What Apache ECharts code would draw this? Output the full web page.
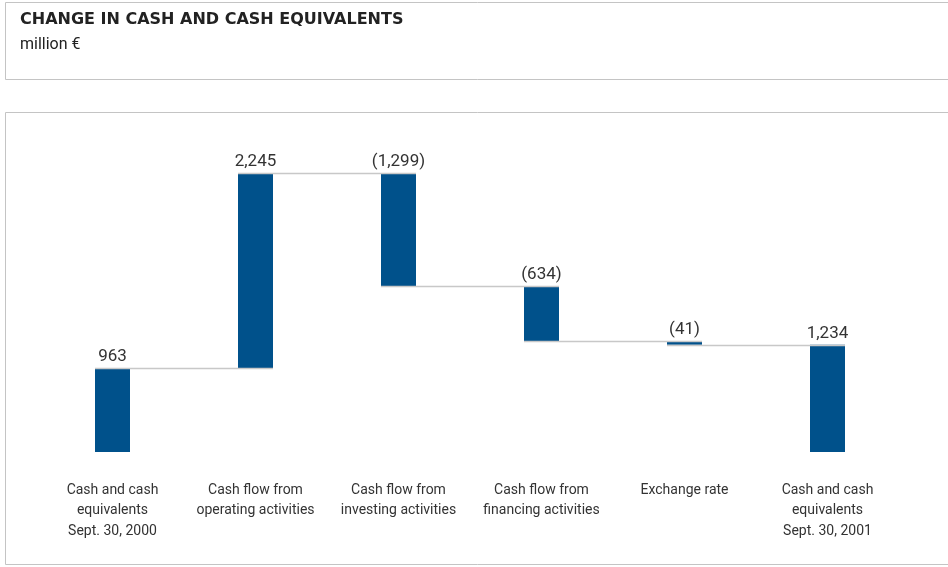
<!DOCTYPE html>
<html>
<head>
<meta charset="utf-8">
<script src="https://cdn.jsdelivr.net/npm/echarts@6/dist/echarts.min.js"></script>
<style>html,body{margin:0;padding:0;background:#fff}#c{width:948px;height:567px}</style>
</head>
<body>
<div id="c"></div>
<script>
var categories = ['Cash and cash\nequivalents\nSept. 30, 2000', 'Cash flow from\noperating activities', 'Cash flow from\ninvesting activities', 'Cash flow from\nfinancing activities', 'Exchange rate', 'Cash and cash\nequivalents\nSept. 30, 2001'];
var changes = [963, 2245, -1299, -634, -41, 1234];
var isTotal = [true, false, false, false, false, true];
var valueLabels = ['963', '2,245', '(1,299)', '(634)', '(41)', '1,234'];

var baseVals = [], barVals = [], levels = [];
var running = 0;
for (var i = 0; i < changes.length; i++) {
  if (isTotal[i]) {
    baseVals.push(0); barVals.push(changes[i]); running = changes[i];
  } else {
    var next = running + changes[i];
    baseVals.push(Math.min(running, next));
    barVals.push(Math.abs(changes[i]));
    running = next;
  }
  levels.push(running);
}
var connectors = [];
for (var j = 0; j < levels.length - 1; j++) connectors.push([j, levels[j]]);

var BAR_W = 35;
var chart = echarts.init(document.getElementById('c'));
chart.setOption({
  animation: false,
  backgroundColor: '#fff',
  title: {
    text: 'CHANGE IN CASH AND CASH EQUIVALENTS',
    subtext: 'million €',
    left: 20, top: 12, itemGap: 9, padding: 0,
    textStyle: {fontFamily: 'DejaVu Sans', fontWeight: 'bold', fontSize: 16, color: '#222'},
    subtextStyle: {fontFamily: 'Roboto', fontSize: 16, color: '#222'}
  },
  graphic: [
    {type: 'rect', shape: {x: 5.5, y: 2.5, width: 960, height: 77}, style: {fill: 'none', stroke: '#c4c4c4', lineWidth: 1}, z: -1},
    {type: 'rect', shape: {x: 5.5, y: 112.5, width: 960, height: 452}, style: {fill: 'none', stroke: '#c4c4c4', lineWidth: 1}, z: -1}
  ],
  grid: {left: 41, right: 49, top: 148, bottom: 115},
  xAxis: {
    type: 'category', data: categories,
    axisLine: {show: false}, axisTick: {show: false},
    axisLabel: {interval: 0, margin: 28, fontFamily: 'Roboto', fontSize: 14, lineHeight: 20.5, color: '#333'}
  },
  yAxis: {type: 'value', min: 0, max: 3500, show: false, splitLine: {show: false}},
  series: [
    {type: 'bar', stack: 'w', data: baseVals, barWidth: BAR_W, itemStyle: {color: 'transparent'}, silent: true},
    {type: 'bar', stack: 'w', data: barVals, barWidth: BAR_W, itemStyle: {color: '#00518b'},
      label: {show: true, position: 'top', distance: 3, fontFamily: 'Roboto', fontSize: 17, color: '#333',
        formatter: function (p) { return valueLabels[p.dataIndex]; }}},
    {type: 'custom', data: connectors, z: 5,
      renderItem: function (params, api) {
        var a = api.coord([api.value(0), api.value(1)]);
        var b = api.coord([api.value(0) + 1, api.value(1)]);
        var y = Math.round(a[1]) + 0.5;
        return {type: 'line', shape: {x1: a[0] - BAR_W / 2, y1: y, x2: b[0] + BAR_W / 2, y2: y},
          style: {stroke: '#c8c8c8', lineWidth: 1.5}};
      }}
  ]
});
</script>
</body>
</html>
